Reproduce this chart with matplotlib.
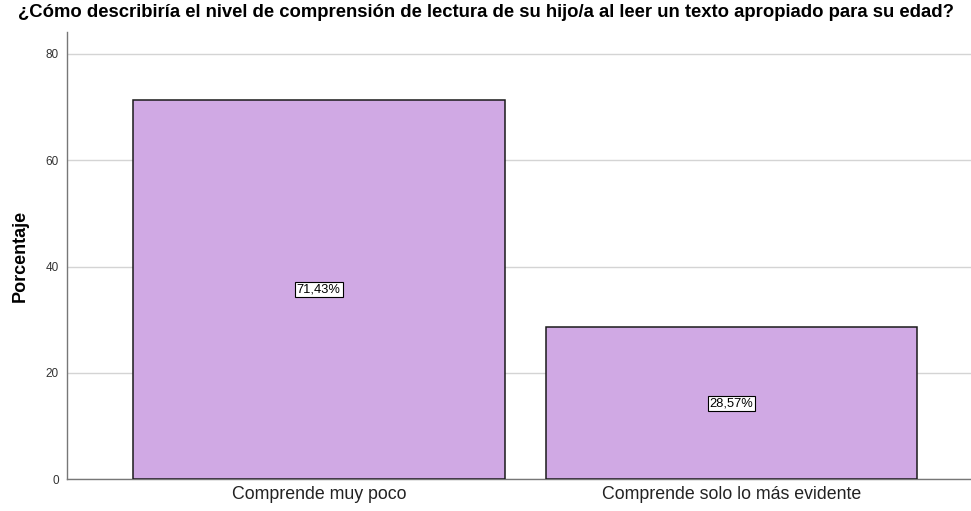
import matplotlib.pyplot as plt

categorias = ["Comprende muy poco", "Comprende solo lo más evidente"]
porcentajes = [71.43, 28.57]
etiquetas = ["71,43%", "28,57%"]
yticks = [0, 20, 40, 60, 80]

plt.rcParams['font.family'] = ['Liberation Sans', 'DejaVu Sans']

fig = plt.figure(figsize=(9.71, 5.11), dpi=100)
ax = fig.add_axes([0.069, 0.062, 0.931, 0.875])

x = range(len(categorias))
ax.bar(x, porcentajes, width=0.9, color='#D0A9E4', edgecolor='#1a1a1a', linewidth=1.1, zorder=3)

for xi, v, lab in zip(x, porcentajes, etiquetas):
    ax.text(xi, v / 2, lab, ha='center', va='center', fontsize=9.3, zorder=4,
            bbox=dict(facecolor='white', edgecolor='black', linewidth=0.8, pad=1.3))

ax.set_xlim(-0.61, 1.58)
ax.set_ylim(0, 84.1)
ax.set_yticks(yticks)
ax.set_yticklabels([str(t) for t in yticks], fontsize=8.5, color='#333333')
ax.set_xticks(list(x))
ax.set_xticklabels(categorias, fontsize=12.8, color='#222222')
ax.tick_params(axis='x', length=0, pad=5)
ax.tick_params(axis='y', length=0, pad=6)
ax.yaxis.grid(True, color='#D4D4D4', linewidth=1, zorder=0)

for s in ['top', 'right']:
    ax.spines[s].set_visible(False)
for s in ['left', 'bottom']:
    ax.spines[s].set_color('#777777')
    ax.spines[s].set_linewidth(1)

ax.set_ylabel('Porcentaje', fontsize=13, fontweight='bold', labelpad=12)
fig.text(0.5, 0.975, '¿Cómo describiría el nivel de comprensión de lectura de su hijo/a al leer un texto apropiado para su edad?',
         ha='center', va='center', fontsize=13.3, fontweight='bold')

fig.savefig('out.png', dpi=100)
